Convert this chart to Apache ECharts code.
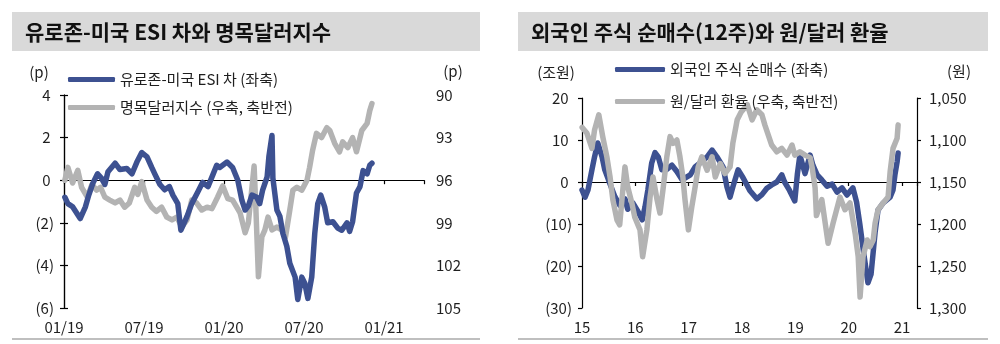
<!DOCTYPE html>
<html><head><meta charset="utf-8">
<script src="https://cdn.jsdelivr.net/npm/echarts@6/dist/echarts.min.js"></script>
<style>html,body{margin:0;padding:0;background:#fff}#c{width:1000px;height:344px}</style>
</head><body><div id="c"></div>
<script>
// ---------- Chart 1: Eurozone-US ESI gap vs. nominal dollar index ----------
const esiDates = ['2019-01-03','2019-01-10','2019-01-21','2019-02-07','2019-02-18','2019-02-25','2019-03-06','2019-03-17','2019-03-26','2019-04-03','2019-04-10','2019-04-26','2019-05-07','2019-05-23','2019-06-04','2019-06-15','2019-06-26','2019-07-08','2019-07-19','2019-07-26','2019-08-07','2019-08-18','2019-08-29','2019-09-06','2019-09-17','2019-09-24','2019-10-08','2019-10-19','2019-11-02','2019-11-13','2019-11-25','2019-12-06','2019-12-15','2019-12-22','2020-01-08','2020-01-21','2020-02-02','2020-02-11','2020-02-18','2020-02-25','2020-03-04','2020-03-15','2020-03-22','2020-03-29','2020-04-08','2020-04-12','2020-04-19','2020-04-21','2020-04-30','2020-05-07','2020-05-14','2020-05-23','2020-05-30','2020-06-11','2020-06-17','2020-06-26','2020-07-03','2020-07-10','2020-07-19','2020-07-26','2020-08-02','2020-08-09','2020-08-18','2020-08-25','2020-09-06','2020-09-17','2020-09-26','2020-10-08','2020-10-14','2020-10-21','2020-10-30','2020-11-07','2020-11-14','2020-11-23','2020-11-29','2020-12-04'];
const esiValues = [-0.8,-1.1,-1.25,-1.8,-1.25,-0.7,-0.15,0.3,0.1,-0.2,0.4,0.8,0.5,0.55,0.3,0.85,1.3,1.1,0.6,0.3,-0.2,-0.45,-0.3,-0.7,-1.1,-2.35,-1.7,-1.1,-0.55,-0.1,-0.3,0.25,0.7,0.6,0.85,0.6,0,-0.95,-1.4,-1.2,-0.7,-0.8,-1.1,-0.45,0.15,1.1,2.1,0.1,-1.4,-1.7,-2.5,-3.1,-3.9,-4.55,-5.6,-4.55,-4.85,-5.55,-4.55,-2.5,-1.1,-0.7,-1.25,-2.0,-1.95,-2.25,-2.35,-2.0,-2.4,-1.95,-0.6,-0.3,0.45,0.3,0.7,0.8];

const dxyDates = ['2019-01-03','2019-01-10','2019-01-21','2019-02-02','2019-02-10','2019-02-22','2019-03-04','2019-03-15','2019-03-24','2019-04-03','2019-04-14','2019-04-26','2019-05-07','2019-05-18','2019-05-29','2019-06-10','2019-06-17','2019-06-26','2019-07-08','2019-07-19','2019-07-30','2019-08-11','2019-08-23','2019-09-04','2019-09-15','2019-09-26','2019-10-08','2019-10-19','2019-10-30','2019-11-11','2019-11-23','2019-12-04','2019-12-17','2019-12-29','2020-01-10','2020-01-21','2020-02-07','2020-02-18','2020-02-25','2020-03-09','2020-03-13','2020-03-19','2020-03-27','2020-04-03','2020-04-10','2020-04-19','2020-04-30','2020-05-11','2020-05-20','2020-05-30','2020-06-06','2020-06-15','2020-06-26','2020-07-08','2020-07-14','2020-07-21','2020-07-30','2020-08-11','2020-08-23','2020-08-30','2020-09-10','2020-09-21','2020-09-28','2020-10-10','2020-10-21','2020-10-30','2020-11-11','2020-11-23','2020-11-29','2020-12-04'];
const dxyValues = [96.0,95.1,96.2,95.3,96.5,97.2,96.3,96.7,96.5,97.2,97.4,97.6,97.4,97.9,97.6,96.5,97.0,96.1,97.4,97.9,98.2,97.9,98.6,98.8,98.6,99.3,98.8,97.4,97.6,98.1,97.9,98.0,97.2,96.4,97.3,97.4,98.3,99.7,99.0,95.0,97.9,102.8,100.0,99.5,98.6,99.5,99.3,99.5,100.0,98.1,96.7,96.5,96.7,96.0,95.1,93.9,92.7,93.0,92.3,92.5,93.4,94.0,93.3,93.7,93.0,94.0,92.5,92.0,91.1,90.6];

const chart1XLabels = ['01/19','07/19','01/20','07/20','01/21'];

// ---------- Chart 2: foreign net buying (12wk) vs. KRW/USD ----------
const flowDates = ['2015-01-01','2015-01-22','2015-02-11','2015-03-10','2015-03-28','2015-04-19','2015-05-18','2015-06-06','2015-07-12','2015-08-14','2015-09-16','2015-10-22','2015-11-10','2015-12-15','2016-01-19','2016-02-17','2016-03-07','2016-03-27','2016-04-22','2016-05-15','2016-06-06','2016-07-01','2016-08-04','2016-09-08','2016-10-12','2016-11-17','2016-12-20','2017-01-12','2017-02-14','2017-03-18','2017-05-07','2017-06-10','2017-07-13','2017-08-24','2017-09-20','2017-10-11','2017-10-30','2017-12-05','2018-01-08','2018-02-23','2018-04-12','2018-05-17','2018-06-20','2018-07-23','2018-08-27','2018-09-30','2018-10-19','2018-11-22','2018-12-28','2019-01-15','2019-02-01','2019-03-08','2019-04-12','2019-05-01','2019-05-30','2019-07-01','2019-08-06','2019-09-09','2019-10-13','2019-11-16','2019-12-20','2020-01-30','2020-02-24','2020-03-17','2020-04-13','2020-05-12','2020-06-02','2020-06-30','2020-07-20','2020-08-24','2020-10-11','2020-10-31','2020-11-13','2020-11-28','2020-12-05'];
const flowValues = [-1.9,-3.6,-1.9,2.9,6.0,9.3,6.0,2.9,-0.5,-3.5,-5.5,-4.0,-6.5,-5.0,-7.0,-9.0,-6.0,-1.9,4.5,7.0,6.0,2.9,3.0,4.0,2.5,0.5,1.2,1.7,3.6,4.5,6.0,7.6,6.0,3.6,-1.2,-3.6,-1.2,2.9,1.0,-2.0,-4.0,-3.0,-1.5,-0.7,0.0,1.7,0.0,-2.0,-4.5,2.0,6.4,2.0,6.4,4.0,1.7,0.5,-1.0,-0.5,-2.4,-1.4,-3.1,-1.4,-4.8,-10,-17,-24,-22,-12,-6.7,-5.0,-3.6,-1.9,1.7,4.8,6.9];

const krwDates = ['2015-01-02','2015-02-04','2015-03-10','2015-03-28','2015-04-26','2015-05-23','2015-06-20','2015-07-12','2015-07-31','2015-08-28','2015-09-16','2015-10-07','2015-10-22','2015-11-10','2015-12-08','2015-12-28','2016-02-02','2016-02-20','2016-03-20','2016-04-11','2016-05-01','2016-05-29','2016-06-18','2016-07-08','2016-08-04','2016-08-26','2016-09-16','2016-10-12','2016-11-02','2016-11-22','2016-12-06','2016-12-30','2017-01-22','2017-02-14','2017-03-07','2017-04-01','2017-05-07','2017-06-10','2017-07-02','2017-08-05','2017-09-06','2017-10-11','2017-10-30','2017-11-29','2017-12-25','2018-02-06','2018-03-11','2018-04-12','2018-05-17','2018-06-06','2018-07-23','2018-08-27','2018-09-30','2018-11-05','2018-12-09','2018-12-28','2019-02-01','2019-03-08','2019-04-12','2019-04-26','2019-05-16','2019-05-25','2019-07-01','2019-08-13','2019-09-16','2019-11-02','2019-12-06','2020-01-10','2020-02-14','2020-03-06','2020-03-19','2020-04-08','2020-05-07','2020-05-26','2020-06-17','2020-06-30','2020-07-20','2020-08-24','2020-09-27','2020-10-11','2020-10-31','2020-11-28','2020-12-05'];
const krwValues = [1085,1092,1110,1088,1070,1096,1120,1144,1171,1195,1201,1160,1132,1156,1175,1192,1207,1239,1207,1168,1144,1171,1187,1160,1120,1096,1104,1100,1120,1144,1170,1207,1180,1156,1132,1120,1136,1120,1144,1128,1140,1132,1104,1076,1067,1058,1076,1064,1070,1082,1106,1114,1110,1118,1106,1118,1114,1118,1121,1133,1157,1190,1171,1223,1199,1168,1183,1175,1211,1239,1287,1239,1219,1227,1219,1199,1183,1175,1168,1138,1110,1098,1082];

const chart2XLabels = ['15','16','17','18','19','20','21'];

// ---------- helpers ----------
function monthIndex(d){const [y,m,dd]=d.split('-').map(Number);const dim=new Date(y,m,0).getDate();return (y-2019)*12+(m-1)+(dd-1)/dim;}
function yearFrac(d){const [y,m,dd]=d.split('-').map(Number);const s=Date.UTC(y,0,1),e=Date.UTC(y+1,0,1);return y+(Date.UTC(y,m-1,dd)-s)/(e-s);}
const FONT = '"Noto Sans CJK KR", "Noto Sans", sans-serif';
const BLUE = '#3d5191', GRAY = '#b3b3b3', INK = '#1f1f1f';
function paren(v){ return v < 0 ? '(' + Math.abs(v) + ')' : v + ' '; }
function comma(v){ return v.toLocaleString('en-US'); }

const axisLine = {show:true, lineStyle:{color:'#000', width:1.2}};
const axisTick = {show:true, length:4, lineStyle:{color:'#000', width:1.2}};
const labelStyle = {fontFamily:FONT, fontSize:15, color:INK};
const LW = 5.5;

const names = ['유로존-미국 ESI 차 (좌축)','명목달러지수 (우축, 축반전)','외국인 주식 순매수 (좌축)','원/달러 환율 (우축, 축반전)'];

const chart = echarts.init(document.getElementById('c'), null, {renderer:'canvas'});
chart.setOption({
  animation:false,
  backgroundColor:'#fff',
  textStyle:{fontFamily:FONT},
  grid:[
    {left:64, top:95, width:360, height:213},
    {left:582, top:98, width:335, height:210}
  ],
  legend:[
    {orient:'vertical', left:68, top:72, padding:0, itemWidth:47, itemHeight:5, itemGap:13, icon:'roundRect', selectedMode:false,
     textStyle:{fontFamily:FONT, fontSize:15, color:INK}, data:[names[0], names[1]]},
    {orient:'vertical', left:615, top:62, padding:0, itemWidth:50, itemHeight:5, itemGap:17, icon:'roundRect', selectedMode:false,
     textStyle:{fontFamily:FONT, fontSize:15, color:INK}, data:[names[2], names[3]]}
  ],
  xAxis:[
    {gridIndex:0, type:'value', min:0, max:27, interval:6, position:'bottom',
     axisLine:{show:false}, axisTick:{show:false}, splitLine:{show:false},
     axisLabel:Object.assign({margin:12, formatter:v => (v % 6 === 0 ? chart1XLabels[v/6] : '')}, labelStyle)},
    {gridIndex:0, type:'value', min:0, max:27, interval:6, position:'top',
     axisLine:Object.assign({onZero:true, onZeroAxisIndex:0}, axisLine), axisTick:Object.assign({inside:true}, axisTick),
     axisLabel:{show:false}, splitLine:{show:false}},
    {gridIndex:1, type:'value', min:2015, max:2021.28, interval:1, position:'bottom',
     axisLine:{show:false}, axisTick:{show:false}, splitLine:{show:false},
     axisLabel:Object.assign({margin:12, formatter:v => (Number.isInteger(v) ? chart2XLabels[v-2015] : '')}, labelStyle)},
    {gridIndex:1, type:'value', min:2015, max:2021.28, interval:1, position:'top',
     axisLine:Object.assign({onZero:true, onZeroAxisIndex:2}, axisLine), axisTick:Object.assign({inside:true}, axisTick),
     axisLabel:{show:false}, splitLine:{show:false}}
  ],
  yAxis:[
    {gridIndex:0, type:'value', min:-6, max:4, interval:2, position:'left',
     axisLine:axisLine, axisTick:axisTick, splitLine:{show:false},
     axisLabel:Object.assign({margin:10, formatter:paren}, labelStyle)},
    {gridIndex:0, type:'value', min:90, max:105, interval:3, position:'right', inverse:true,
     axisLine:axisLine, axisTick:axisTick, splitLine:{show:false},
     axisLabel:Object.assign({margin:12}, labelStyle)},
    {gridIndex:1, type:'value', min:-30, max:20, interval:10, position:'left',
     axisLine:axisLine, axisTick:axisTick, splitLine:{show:false},
     axisLabel:Object.assign({margin:10, formatter:paren}, labelStyle)},
    {gridIndex:1, type:'value', min:1050, max:1300, interval:50, position:'right', inverse:true,
     axisLine:axisLine, axisTick:axisTick, splitLine:{show:false},
     axisLabel:Object.assign({margin:12, formatter:comma}, labelStyle)}
  ],
  series:[
    {name:names[1], type:'line', xAxisIndex:0, yAxisIndex:1, symbol:'none', silent:true,
     lineStyle:{color:GRAY, width:LW, cap:'round', join:'round'}, itemStyle:{color:GRAY},
     data:dxyDates.map((d,i)=>[monthIndex(d), dxyValues[i]])},
    {name:names[0], type:'line', xAxisIndex:0, yAxisIndex:0, symbol:'none', silent:true,
     lineStyle:{color:BLUE, width:LW, cap:'round', join:'round'}, itemStyle:{color:BLUE},
     data:esiDates.map((d,i)=>[monthIndex(d), esiValues[i]])},
    {name:names[2], type:'line', xAxisIndex:2, yAxisIndex:2, symbol:'none', silent:true,
     lineStyle:{color:BLUE, width:LW, cap:'round', join:'round'}, itemStyle:{color:BLUE},
     data:flowDates.map((d,i)=>[yearFrac(d), flowValues[i]])},
    {name:names[3], type:'line', xAxisIndex:2, yAxisIndex:3, symbol:'none', silent:true,
     lineStyle:{color:GRAY, width:LW, cap:'round', join:'round'}, itemStyle:{color:GRAY},
     data:krwDates.map((d,i)=>[yearFrac(d), krwValues[i]])}
  ],
  graphic:[
    {type:'rect', shape:{x:12, y:12, width:468, height:39}, style:{fill:'#d9d9d9'}, silent:true},
    {type:'rect', shape:{x:518, y:12, width:470, height:39}, style:{fill:'#d9d9d9'}, silent:true},
    {type:'text', x:25, y:32, style:{text:'유로존-미국 ESI 차와 명목달러지수', font:'bold 21px ' + FONT, fill:'#111', verticalAlign:'middle'}},
    {type:'text', x:531, y:32, style:{text:'외국인 주식 순매수(12주)와 원/달러 환율', font:'bold 21px ' + FONT, fill:'#111', verticalAlign:'middle'}},
    {type:'line', shape:{x1:12, y1:339, x2:480, y2:339}, style:{stroke:'#bfbfbf', lineWidth:2}},
    {type:'line', shape:{x1:518, y1:339, x2:988, y2:339}, style:{stroke:'#bfbfbf', lineWidth:2}},
    {type:'text', x:39, y:72, style:{text:'(p)', font:'15px ' + FONT, fill:INK, align:'center', verticalAlign:'middle'}},
    {type:'text', x:453, y:71, style:{text:'(p)', font:'15px ' + FONT, fill:INK, align:'center', verticalAlign:'middle'}},
    {type:'text', x:556, y:72, style:{text:'(조원)', font:'15px ' + FONT, fill:INK, align:'center', verticalAlign:'middle'}},
    {type:'text', x:959, y:71, style:{text:'(원)', font:'15px ' + FONT, fill:INK, align:'center', verticalAlign:'middle'}}
  ]
});
</script></body></html>
